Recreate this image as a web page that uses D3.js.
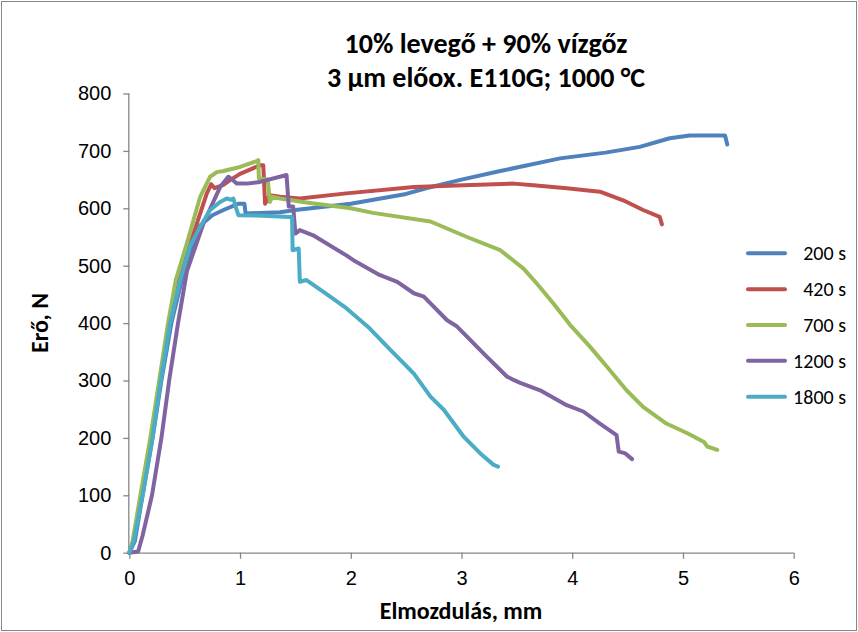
<!DOCTYPE html>
<html>
<head>
<meta charset="utf-8">
<script src="https://cdn.jsdelivr.net/npm/d3@7"></script>
<style>
  body { margin: 0; background: #fff; }
  svg { font-family: Carlito, "Open Sans", "Noto Sans", sans-serif; }
  .axis path, .axis line { stroke: #868686; stroke-width: 1.3px; }
  .axis text { fill: #000; }
</style>
</head>
<body>
<div id="chart"></div>
<script>
// series names (legend) and colours
var seriesNames = ["200 s", "420 s", "700 s", "1200 s", "1800 s"];
var seriesColors = ["#4F81BD", "#C0504D", "#9BBB59", "#8064A2", "#4BACC6"];

var xTicks = [0, 1, 2, 3, 4, 5, 6];
var yTicks = [0, 100, 200, 300, 400, 500, 600, 700, 800];

// [elmozdulás mm, erő N]
var s200 = [[0,0],[0.05,20],[0.12,100],[0.21,200],[0.29,300],[0.38,400],[0.48,480],[0.56,530],[0.64,570],[0.75,588],[0.85,597],[0.95,605],[0.99,608],[1.04,608],[1.05,591],[1.36,593],[1.5,597],[2.0,608],[2.5,625],[2.68,635],[3.0,650],[3.35,665],[3.89,687],[4.3,697],[4.61,707],[4.88,722],[5.06,727],[5.38,727],[5.4,711]];
var s420 = [[0,0],[0.04,20],[0.11,100],[0.2,200],[0.28,300],[0.36,400],[0.44,475],[0.58,556],[0.7,626],[0.74,642],[0.77,635],[0.85,641],[0.91,649],[1.0,660],[1.18,675],[1.21,675],[1.226,608],[1.27,623],[1.36,620],[1.54,617],[1.96,626],[2.57,637],[3.02,640],[3.47,643],[3.65,640],[3.95,635],[4.25,629],[4.46,614],[4.64,597],[4.79,585],[4.81,572]];
var s700 = [[0,0],[0.03,20],[0.1,100],[0.19,200],[0.27,300],[0.35,400],[0.42,475],[0.52,539],[0.64,620],[0.73,655],[0.79,663],[0.85,665],[1.0,672],[1.15,682],[1.165,684],[1.17,652],[1.25,650],[1.27,611],[1.29,620],[1.36,617],[1.6,610],[2.0,600],[2.2,592],[2.72,577],[3.05,550],[3.35,527],[3.56,495],[3.68,469],[3.83,434],[3.98,397],[4.16,359],[4.34,318],[4.49,283],[4.64,254],[4.85,225],[5.04,208],[5.19,193],[5.22,185],[5.31,179]];
var s1200 = [[0,0],[0.08,2],[0.12,30],[0.205,100],[0.29,200],[0.36,300],[0.44,400],[0.52,490],[0.67,574],[0.82,637],[0.894,655],[0.93,650],[0.97,643],[1.06,643],[1.18,646],[1.42,658],[1.44,603],[1.48,603],[1.5,556],[1.54,562],[1.66,553],[1.96,518],[2.02,510],[2.26,484],[2.42,472],[2.57,452],[2.66,446],[2.87,405],[2.96,394],[3.23,341],[3.41,307],[3.47,301],[3.53,296],[3.71,283],[3.95,257],[4.1,246],[4.25,225],[4.4,205],[4.42,176],[4.48,173],[4.54,163]];
var s1800 = [[0,0],[0.04,20],[0.12,100],[0.21,200],[0.284,300],[0.368,400],[0.46,475],[0.55,535],[0.64,568],[0.73,597],[0.82,611],[0.88,617],[0.92,615],[0.94,617],[0.96,603],[0.985,588],[1.2,587],[1.45,585],[1.47,585],[1.475,527],[1.53,530],[1.54,472],[1.6,475],[1.75,455],[1.96,426],[2.17,391],[2.36,353],[2.57,312],[2.72,272],[2.84,249],[3.02,202],[3.17,173],[3.29,153],[3.33,150]];

var allSeries = [s200, s420, s700, s1200, s1800];

var width = 858, height = 632;
var margin = {top: 93.5, right: 64, bottom: 79, left: 129.3};
var plotW = 793.7 - margin.left, plotH = 552.7 - margin.top;

var svg = d3.select("#chart").append("svg")
    .attr("width", width)
    .attr("height", height);

// outer chart border
svg.append("rect")
    .attr("x", 1.5).attr("y", 1.5)
    .attr("width", width - 3).attr("height", height - 3)
    .attr("fill", "none")
    .attr("stroke", "#868686")
    .attr("stroke-width", 1);

var g = svg.append("g")
    .attr("transform", "translate(" + margin.left + "," + margin.top + ")");

var x = d3.scaleLinear().domain([0, 6]).range([0, plotW]);
var y = d3.scaleLinear().domain([0, 800]).range([plotH, 0]);

g.append("g")
    .attr("class", "axis")
    .attr("transform", "translate(0," + plotH + ")")
    .call(d3.axisBottom(x).tickValues(xTicks).tickFormat(d3.format("d")).tickSizeInner(6).tickSizeOuter(0).tickPadding(12))
    .call(function(a) { a.select(".domain").attr("d", "M0,0.5H" + plotW); });

g.append("g")
    .attr("class", "axis")
    .call(d3.axisLeft(y).tickValues(yTicks).tickFormat(d3.format("d")).tickSizeInner(6).tickSizeOuter(0).tickPadding(12))
    .call(function(a) { a.select(".domain").attr("d", "M-0.5,0V" + plotH); });

g.selectAll(".axis text")
    .attr("font-family", null)
    .attr("font-size", null)
    .style("font-size", "20px");

var line = d3.line()
    .x(function(d) { return x(d[0]); })
    .y(function(d) { return y(d[1]); });

// series lines
g.selectAll(".series")
    .data(allSeries)
    .enter()
    .append("path")
        .attr("class", "series")
        .attr("fill", "none")
        .attr("stroke", function(d, i) { return seriesColors[i]; })
        .attr("stroke-width", 4)
        .attr("stroke-linejoin", "round")
        .attr("stroke-linecap", "round")
        .attr("d", line);

// title
var title = svg.append("text")
    .attr("text-anchor", "middle")
    .attr("font-weight", "bold")
    .attr("font-size", "28px");
title.append("tspan").attr("x", 486).attr("y", 53).text("10% levegő + 90% vízgőz");
title.append("tspan").attr("x", 486).attr("y", 87).text("3 µm előox. E110G; 1000 °C");

// axis titles
svg.append("text")
    .attr("x", 461).attr("y", 619)
    .attr("text-anchor", "middle")
    .attr("font-weight", "bold")
    .attr("font-size", "24px")
    .text("Elmozdulás, mm");

svg.append("text")
    .attr("transform", "translate(48,323) rotate(-90)")
    .attr("text-anchor", "middle")
    .attr("font-weight", "bold")
    .attr("font-size", "24px")
    .text("Erő, N");

// legend
var legend = svg.selectAll(".legend")
    .data(seriesNames)
    .enter()
    .append("g")
        .attr("class", "legend")
        .attr("transform", function(d, i) { return "translate(0," + (253.3 + i * 35.85) + ")"; });

legend.append("line")
    .attr("x1", 748).attr("x2", 785)
    .attr("y1", 0).attr("y2", 0)
    .attr("stroke", function(d, i) { return seriesColors[i]; })
    .attr("stroke-width", 4)
    .attr("stroke-linecap", "round");

legend.append("text")
    .attr("x", 846).attr("y", 7)
    .attr("text-anchor", "end")
    .attr("font-size", "20px")
    .text(function(d) { return d; });
</script>
</body>
</html>
